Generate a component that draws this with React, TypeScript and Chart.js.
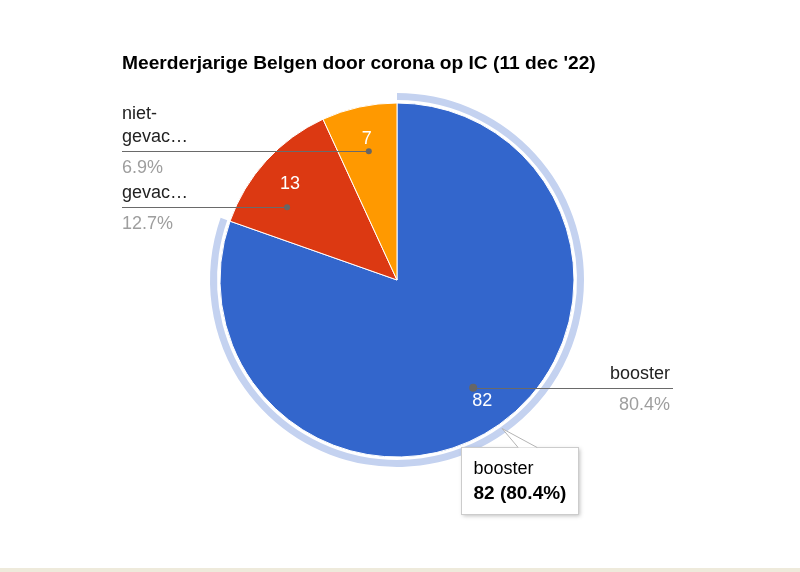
import { useEffect, useRef } from 'react';
import { Chart, registerables } from 'chart.js';

Chart.register(...registerables);

const categories = ['booster', 'gevaccineerd', 'niet-gevaccineerd'];
const shownNames = [['booster'], ['gevac…'], ['niet-', 'gevac…']];
const patients = [82, 13, 7];
const colors = ['#3366CC', '#DC3912', '#FF9900'];
const titleText = "Meerderjarige Belgen door corona op IC (11 dec '22)";
const highlighted = 0;

const FONT = 'Arial, "Liberation Sans", sans-serif';

const pct = (v: number) => {
  const total = patients.reduce((a, b) => a + b, 0);
  return ((v / total) * 100).toFixed(1) + '%';
};

const overlayPlugin = {
  id: 'googleLook',
  afterDatasetsDraw(chart: Chart) {
    const ctx = chart.ctx;
    const meta = chart.getDatasetMeta(2);
    const arcs = meta.data as any[];
    if (!arcs.length) return;
    const cx = arcs[0].x;
    const cy = arcs[0].y;
    const R = arcs[0].outerRadius;

    ctx.save();

    // title
    ctx.fillStyle = '#000';
    ctx.font = `bold 19.2px ${FONT}`;
    ctx.textAlign = 'left';
    ctx.textBaseline = 'alphabetic';
    ctx.fillText(titleText, 122, 69);

    // values inside slices
    ctx.font = `18px ${FONT}`;
    ctx.fillStyle = '#fff';
    ctx.textAlign = 'center';
    ctx.textBaseline = 'middle';
    arcs.forEach((a, i) => {
      const mid = (a.startAngle + a.endAngle) / 2;
      const r = R * 0.825;
      ctx.fillText(String(patients[i]), cx + r * Math.cos(mid) + 1, cy + r * Math.sin(mid) + 2);
    });

    // label layout
    const rDot = R * 0.745;
    const items = arcs.map((a, i) => {
      const mid = (a.startAngle + a.endAngle) / 2;
      return {
        i,
        right: Math.cos(mid) >= 0,
        y: cy + rDot * Math.sin(mid),
        above: 9 + 23 * (shownNames[i].length - 1) + 14,
        below: 26,
      };
    });
    [true, false].forEach((side) => {
      const list = items.filter((it) => it.right === side).sort((a, b) => a.y - b.y);
      for (let k = 1; k < list.length; k++) {
        const min = list[k - 1].y + list[k - 1].below + list[k].above + 7;
        if (list[k].y < min) list[k].y = min;
      }
    });

    items.forEach((it) => {
      const dy = it.y - cy;
      const dx = Math.sqrt(Math.max(rDot * rDot - dy * dy, 0));
      const dotX = it.right ? cx + dx : cx - dx;
      const endX = it.right ? 673 : 122;
      const textX = it.right ? 670 : 122;
      ctx.strokeStyle = '#6a6a6a';
      ctx.lineWidth = 1.2;
      ctx.beginPath();
      ctx.moveTo(dotX, Math.round(it.y) + 0.5);
      ctx.lineTo(endX, Math.round(it.y) + 0.5);
      ctx.stroke();
      ctx.fillStyle = '#666';
      ctx.beginPath();
      ctx.arc(dotX, it.y, it.i === highlighted ? 4 : 3, 0, Math.PI * 2);
      ctx.fill();

      ctx.textAlign = it.right ? 'right' : 'left';
      ctx.textBaseline = 'alphabetic';
      ctx.font = `18px ${FONT}`;
      ctx.fillStyle = '#222';
      const names = shownNames[it.i];
      names.forEach((n, k) => {
        ctx.fillText(n, textX, it.y - 9 - 23 * (names.length - 1 - k));
      });
      ctx.fillStyle = '#9e9e9e';
      ctx.fillText(pct(patients[it.i]), textX, it.y + 22);
    });

    // tooltip for highlighted slice
    const h = arcs[highlighted];
    const mid = (h.startAngle + h.endAngle) / 2;
    const ax = cx + (R + 5) * Math.cos(mid);
    const ay = cy + (R + 5) * Math.sin(mid);
    const bx = Math.round(ax - 41) + 0.5;
    const by = Math.round(ay + 18.5) + 0.5;
    const bw = 117;
    const bh = 67;
    ctx.save();
    ctx.shadowColor = 'rgba(0,0,0,0.25)';
    ctx.shadowBlur = 4;
    ctx.shadowOffsetX = 1;
    ctx.shadowOffsetY = 1;
    ctx.fillStyle = '#fff';
    ctx.fillRect(bx, by, bw, bh);
    ctx.restore();
    ctx.strokeStyle = '#cccccc';
    ctx.lineWidth = 1;
    ctx.strokeRect(bx, by, bw, bh);
    // tail
    ctx.fillStyle = '#fff';
    ctx.beginPath();
    ctx.moveTo(ax + 16, by);
    ctx.lineTo(ax, ay);
    ctx.lineTo(ax + 35, by);
    ctx.closePath();
    ctx.fill();
    ctx.strokeStyle = '#b4b4b4';
    ctx.beginPath();
    ctx.moveTo(ax + 16, by);
    ctx.lineTo(ax, ay);
    ctx.lineTo(ax + 35, by);
    ctx.stroke();
    ctx.fillStyle = '#000';
    ctx.textAlign = 'left';
    ctx.font = `18px ${FONT}`;
    ctx.fillText(categories[highlighted], bx + 12, by + 26);
    ctx.font = `bold 19px ${FONT}`;
    ctx.fillText(`${patients[highlighted]} (${pct(patients[highlighted])})`, bx + 12, by + 51);

    ctx.restore();
  },
};

export default function App() {
  const chartRef = useRef<HTMLCanvasElement>(null);
  const chartInstance = useRef<Chart | null>(null);

  useEffect(() => {
    document.body.style.margin = '0';
    if (chartRef.current) {
      if (chartInstance.current) {
        chartInstance.current.destroy();
      }
      const ctx = chartRef.current.getContext('2d');
      if (!ctx) return;

      chartInstance.current = new Chart(ctx, {
        type: 'pie',
        data: {
          labels: categories,
          datasets: [
            {
              // highlight ring around the selected slice
              data: patients,
              backgroundColor: colors.map((_, i) => (i === highlighted ? '#C4D2F0' : 'rgba(0,0,0,0)')),
              borderWidth: 0,
              weight: 7,
            },
            {
              data: patients,
              backgroundColor: 'rgba(0,0,0,0)',
              borderWidth: 0,
              weight: 3,
            },
            {
              data: patients,
              backgroundColor: colors,
              borderColor: '#ffffff',
              borderWidth: 1,
              weight: 177,
            },
          ],
        },
        options: {
          responsive: false,
          animation: false,
          radius: 187,
          layout: { padding: { left: 200, right: 206, top: 80, bottom: 88 } },
          plugins: {
            legend: { display: false },
            title: { display: false },
            tooltip: { enabled: false },
          },
          hover: { mode: null as any },
          events: [],
        } as any,
        plugins: [overlayPlugin],
      });
    }

    return () => {
      if (chartInstance.current) {
        chartInstance.current.destroy();
        chartInstance.current = null;
      }
    };
  }, []);

  return (
    <div style={{ width: 800, height: 572, background: '#fff' }}>
      <canvas ref={chartRef} width={800} height={568} style={{ display: 'block' }} />
      <div style={{ height: 4, background: '#EEEADB' }} />
    </div>
  );
}
